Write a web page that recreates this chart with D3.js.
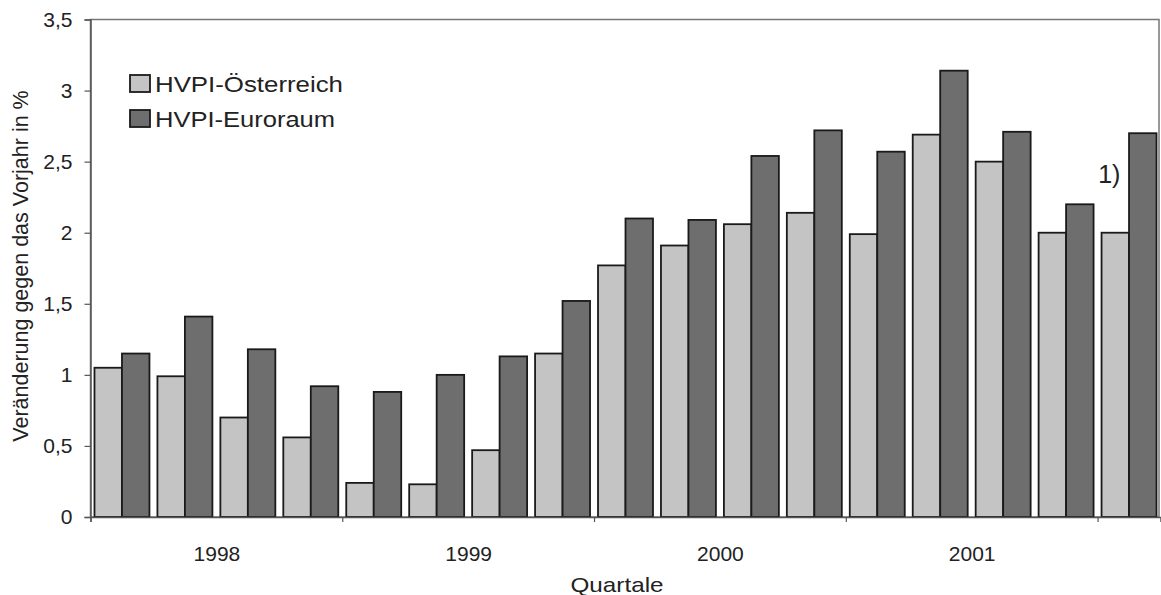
<!DOCTYPE html>
<html>
<head>
<meta charset="utf-8">
<script src="https://cdn.jsdelivr.net/npm/d3@7"></script>
<style>
  html, body { margin: 0; padding: 0; background: #ffffff; }
  svg { display: block; }
  text { font-family: "Liberation Sans", Arial, sans-serif; fill: #222; }
</style>
</head>
<body>
<svg id="chart" width="1161" height="595"></svg>
<script>
// ---- Data ----
const quarters = ["1998 Q1","1998 Q2","1998 Q3","1998 Q4",
                  "1999 Q1","1999 Q2","1999 Q3","1999 Q4",
                  "2000 Q1","2000 Q2","2000 Q3","2000 Q4",
                  "2001 Q1","2001 Q2","2001 Q3","2001 Q4",
                  "2002 Q1"];
const hvpiOesterreich = [1.05, 0.99, 0.70, 0.56, 0.24, 0.23, 0.47, 1.15,
                         1.77, 1.91, 2.06, 2.14, 1.99, 2.69, 2.50, 2.00, 2.00];
const hvpiEuroraum    = [1.15, 1.41, 1.18, 0.92, 0.88, 1.00, 1.13, 1.52,
                         2.10, 2.09, 2.54, 2.72, 2.57, 3.14, 2.71, 2.20, 2.70];
const seriesNames = ["HVPI-Österreich", "HVPI-Euroraum"];
const yTickValues = [0, 0.5, 1, 1.5, 2, 2.5, 3, 3.5];
const yTickLabels = ["0", "0,5", "1", "1,5", "2", "2,5", "3", "3,5"];
const yearLabels = ["1998", "1999", "2000", "2001"];
const yearTickIdx = [0, 4, 8, 12, 16];
const yearLabelIdx = [2, 6, 10, 14];
const footnote = "1)";

// ---- Layout ----
const plotL = 90.5, plotR = 1160.5, plotT = 19.5, plotB = 517;
const colors = ["#c4c4c4", "#6e6e6e"];

const svg = d3.select("#chart");

const x0 = d3.scaleBand().domain(quarters).range([plotL, plotR]).padding(0);
const x1 = d3.scaleBand().domain(seriesNames).range([0, x0.bandwidth()])
             .paddingInner(0).paddingOuter(0.145);
const xi = d3.scaleLinear().domain([0, quarters.length]).range([plotL, plotR]);
const y = d3.scaleLinear().domain([0, 3.5]).range([plotB, plotT]);

// frame
svg.append("rect")
  .attr("x", plotL).attr("y", plotT)
  .attr("width", plotR - plotL - 1.5).attr("height", plotB - plotT)
  .attr("fill", "none").attr("stroke", "#777").attr("stroke-width", 1.5);

// bars
const rows = quarters.map((q, i) => ({ q, vals: [hvpiOesterreich[i], hvpiEuroraum[i]] }));
const g = svg.append("g");
rows.forEach(r => {
  r.vals.forEach((v, k) => {
    g.append("rect")
      .attr("x", x0(r.q) + x1(seriesNames[k]))
      .attr("y", y(v))
      .attr("width", x1.bandwidth())
      .attr("height", y(0) - y(v))
      .attr("fill", colors[k])
      .attr("stroke", "#1a1a1a")
      .attr("stroke-width", 1.8);
  });
});

// y axis
const yAxis = svg.append("g")
  .attr("transform", `translate(${plotL},0)`)
  .call(d3.axisLeft(y).tickValues(yTickValues).tickSize(6).tickPadding(12)
        .tickFormat((d, i) => yTickLabels[i]));
yAxis.select(".domain").attr("stroke", "#555").attr("stroke-width", 1.5);
yAxis.selectAll(".tick line").attr("stroke", "#555").attr("stroke-width", 1.2);
yAxis.selectAll(".tick text").style("font-size", "21px").attr("fill", "#222");

// x axis (ticks between years)
const xAxis = svg.append("g")
  .attr("transform", `translate(0,${plotB})`)
  .call(d3.axisBottom(xi).tickValues(yearTickIdx).tickSize(5).tickFormat(""));
xAxis.select(".domain").attr("stroke", "#555").attr("stroke-width", 1.5);
xAxis.selectAll(".tick line").attr("stroke", "#555").attr("stroke-width", 1.2);

// year labels
const xLab = svg.append("g")
  .attr("transform", `translate(0,${plotB})`)
  .call(d3.axisBottom(xi).tickValues(yearLabelIdx).tickSize(0).tickPadding(29)
        .tickFormat((d, i) => yearLabels[i]));
xLab.select(".domain").remove();
xLab.selectAll(".tick text").style("font-size", "21px").attr("fill", "#222");

// axis titles
svg.append("text")
  .attr("x", 617).attr("y", 592)
  .attr("text-anchor", "middle")
  .attr("textLength", 93).attr("lengthAdjust", "spacingAndGlyphs")
  .style("font-size", "21px")
  .text("Quartale");

svg.append("text")
  .attr("transform", "translate(28,266) rotate(-90)")
  .attr("text-anchor", "middle")
  .style("font-size", "21.5px")
  .text("Veränderung gegen das Vorjahr in %");

// footnote marker
const lastQ = quarters[quarters.length - 1];
svg.append("text")
  .attr("x", x0(lastQ) + x1(seriesNames[0]) + x1.bandwidth() / 2 - 6)
  .attr("y", y(hvpiOesterreich[hvpiOesterreich.length - 1]) - 50)
  .attr("text-anchor", "middle")
  .style("font-size", "25px")
  .text(footnote);

// legend
const legendY = [75, 110];
const legendLen = [188, 180];
seriesNames.forEach((name, k) => {
  svg.append("rect")
    .attr("x", 130).attr("y", legendY[k])
    .attr("width", 20).attr("height", 17)
    .attr("fill", colors[k]).attr("stroke", "#1a1a1a").attr("stroke-width", 1.8);
  svg.append("text")
    .attr("x", 155).attr("y", legendY[k] + 16.5)
    .attr("textLength", legendLen[k]).attr("lengthAdjust", "spacingAndGlyphs")
    .style("font-size", "21.5px")
    .text(name);
});
</script>
</body>
</html>
